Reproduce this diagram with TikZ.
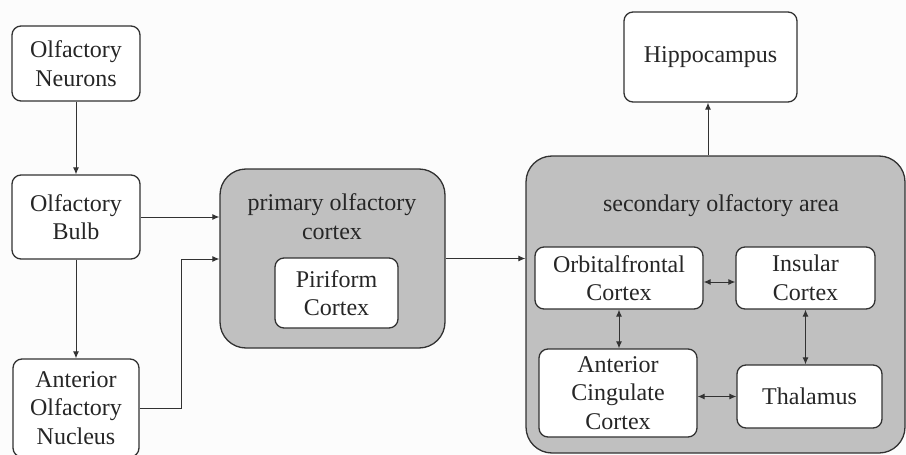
\documentclass[tikz,border=0pt]{standalone}
\usepackage{fontspec}
\setmainfont{LiberationSerif}[Extension=.ttf, UprightFont=*-Regular, BoldFont=*-Bold]
\usetikzlibrary{arrows.meta}
\definecolor{boxgray}{RGB}{192,192,192}
\definecolor{linec}{RGB}{50,50,50}
\definecolor{txt}{RGB}{38,38,38}
\definecolor{bg}{RGB}{252,252,252}
\begin{document}
\begin{tikzpicture}[x=1pt,y=-1pt,
  box/.style={draw=linec, line width=1.3pt, rounded corners=9pt, fill=white, align=center, text=txt, font=\fontsize{24}{28.5}\selectfont, inner sep=0pt},
  big/.style={draw=linec, line width=1.3pt, rounded corners=26pt, fill=boxgray, inner sep=0pt},
  lbl/.style={align=center, text=txt, font=\fontsize{24}{29}\selectfont, inner sep=0pt},
  arr/.style={draw=linec, line width=1pt, -{Latex[length=7pt,width=6pt]}},
  darr/.style={draw=linec, line width=1pt, {Latex[length=7pt,width=6pt]}-{Latex[length=7pt,width=6pt]}}
]
\useasboundingbox (0,0) rectangle (906,455);
\fill[bg] (0,0) rectangle (906,455);
% containers
\node[big, minimum width=225pt, minimum height=179pt] (prim) at (332.5,258.5) {};
\node[big, minimum width=379pt, minimum height=297pt] (sec) at (715.5,304.5) {};
\node[lbl] (primlbl) at (332,217) {primary olfactory\\cortex};
\node[lbl] (seclbl) at (721,206) {secondary olfactory area};
% left column
\node[box, minimum width=128pt, minimum height=75pt] (neu) at (76,63.5) {Olfactory\\Neurons};
\node[box, minimum width=128pt, minimum height=84pt] (bulb) at (76,217) {Olfactory\\Bulb};
\node[box, minimum width=126pt, minimum height=98pt] (ano) at (76,408) {Anterior\\Olfactory\\Nucleus};
% inner boxes
\node[box, minimum width=123pt, minimum height=70pt] (pir) at (336.5,293) {Piriform\\Cortex};
\node[box, minimum width=173pt, minimum height=90pt] (hip) at (710.5,57) {Hippocampus};
\node[box, minimum width=168pt, minimum height=62pt] (orb) at (619,278) {Orbitalfrontal\\Cortex};
\node[box, minimum width=139pt, minimum height=62pt] (ins) at (805.5,278) {Insular\\Cortex};
\node[box, minimum width=158pt, minimum height=88pt] (acc) at (618,393) {Anterior\\Cingulate\\Cortex};
\node[box, minimum width=145pt, minimum height=63pt] (thal) at (809.5,396.5) {Thalamus};
% connectors
\draw[arr] (neu) -- (bulb);
\draw[arr] (bulb) -- (ano);
\draw[arr] (bulb.east) -- (prim.west |- bulb.east);
\draw[arr] (ano.east) -- ++(42,0) |- ([yshift=-0.5pt]prim.west);
\draw[arr] (prim.east) -- (sec.west |- prim.east);
\draw[arr] (sec.north -| 708,0) -- (hip.south -| 708,0);
\draw[darr] ([yshift=-4pt]orb.east) -- ([yshift=-4pt]ins.west);
\draw[darr] (orb.south) -- (acc.north -| orb.south);
\draw[darr] (ins.south) -- (thal.north -| ins.south);
\draw[darr] (acc.east |- thal.west) -- (thal.west);
\end{tikzpicture}
\end{document}
